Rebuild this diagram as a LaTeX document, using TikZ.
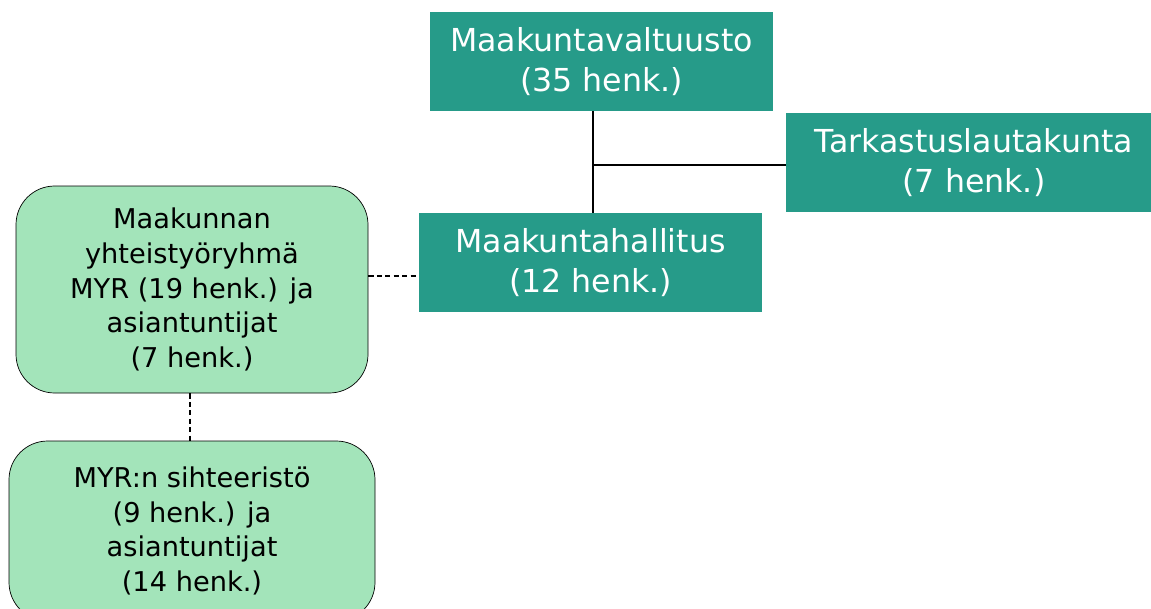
\documentclass[tikz,border=0pt]{standalone}
\usepackage{fontspec}
\setmainfont{DejaVu Sans}
\usetikzlibrary{positioning}
\definecolor{teal1}{HTML}{269B89}
\definecolor{mint1}{HTML}{A3E4BA}
\tikzset{orgbox/.style={fill=teal1, text=white, align=center, inner sep=0pt, font=\fontsize{18}{22.7}\selectfont}}
\tikzset{myrbox/.style={fill=mint1, draw=black, thin, rounded corners=22pt, align=center, inner sep=0pt, font=\fontsize{15.5}{19.8}\selectfont}}
\tikzset{conn/.style={draw, line width=0.9pt}}
\tikzset{dconn/.style={draw, line width=0.9pt, dash pattern=on 3pt off 1.8pt}}
\begin{document}
\begin{tikzpicture}[x=0.02cm, y=-0.02cm]
  \useasboundingbox (0,0) rectangle (1151,608);
  \clip (0,0) rectangle (1151,608);
  \node[orgbox, minimum width=343*0.02cm, minimum height=99*0.02cm] (MV) at (601.5,61.5) {Maakuntavaltuusto\\(35 henk.)};
  \node[orgbox, minimum width=376*0.02cm, minimum height=99*0.02cm] (TL) at (974,162.5) {Tarkastuslautakunta\\(7 henk.)};
  \node[orgbox, minimum width=343*0.02cm, minimum height=99*0.02cm] (MH) at (590.5,262.5) {Maakuntahallitus\\(12 henk.)};
  \node[myrbox, minimum width=352*0.02cm, minimum height=207*0.02cm] (MYR) at (192,289.5) {Maakunnan\\yhteistyöryhmä\\MYR (19 henk.) ja\\asiantuntijat\\(7 henk.)};
  \node[myrbox, minimum width=366*0.02cm, minimum height=180*0.02cm] (SIH) at (192,531) {MYR:n sihteeristö\\(9 henk.) ja\\asiantuntijat\\(14 henk.)};
  % yhteydet
  \coordinate (J) at (593,165);
  \coordinate (D) at (400,276);
  \draw[conn] (MV.south -| J) -- (MH.north -| J);
  \draw[conn] (J) -- (TL.west |- J);
  \draw[dconn] (MYR.east |- D) -- (MH.west |- D);
  \draw[dconn] (MYR.south -| 190,0) -- (SIH.north -| 190,0);
\end{tikzpicture}
\end{document}
